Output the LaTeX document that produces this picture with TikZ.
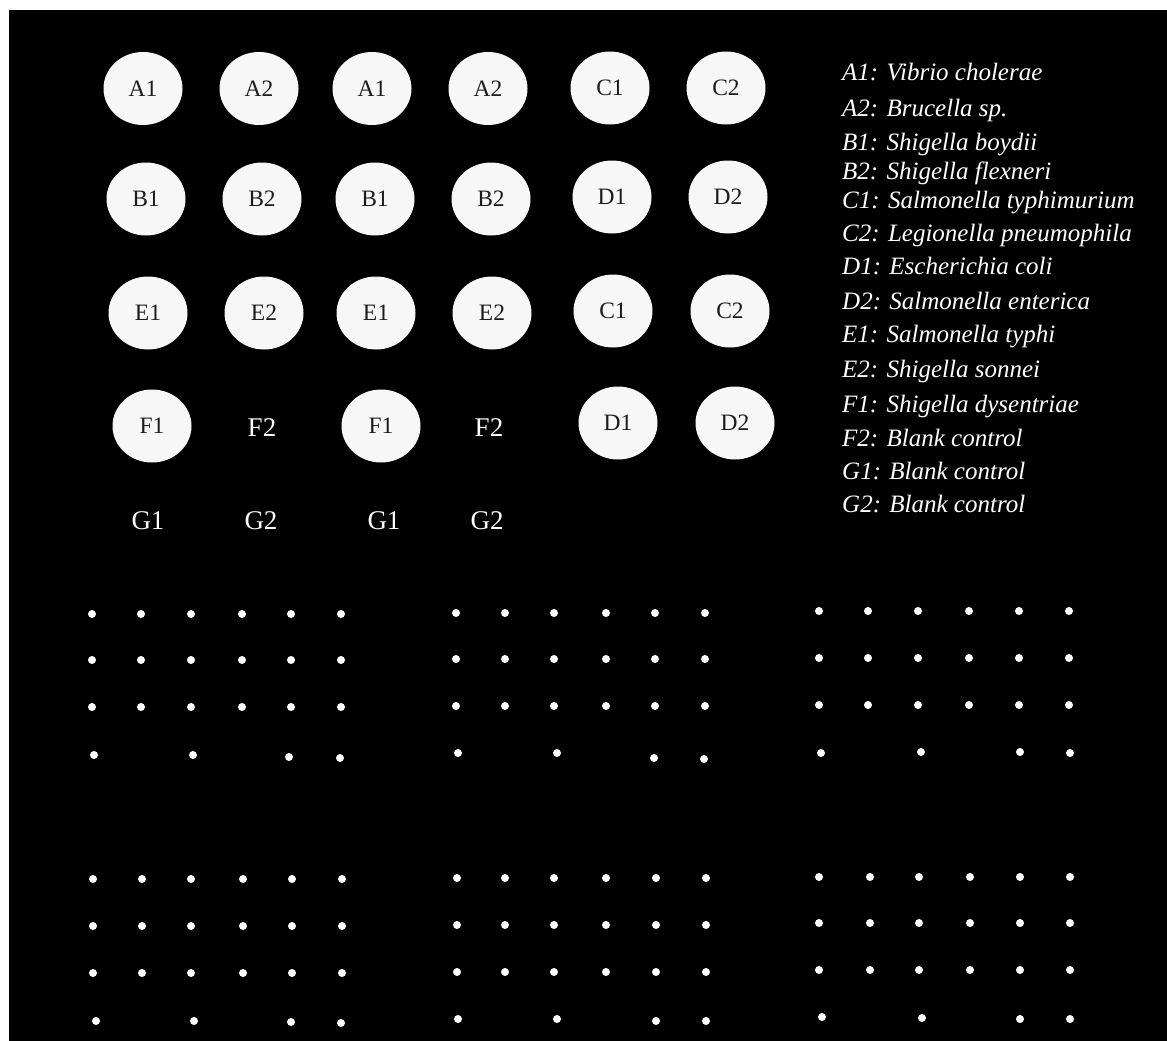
\documentclass[tikz,border=0pt]{standalone}
\usepackage{fontspec}
\setmainfont{Liberation Serif}
\usetikzlibrary{shapes.geometric}
\definecolor{wellfill}{HTML}{F7F7F7}
\definecolor{welltext}{HTML}{1C1C1C}
\begin{document}
\begin{tikzpicture}[x=1pt,y=-1pt,
  well/.style={ellipse, fill=wellfill, minimum width=79pt, minimum height=73pt, inner sep=0pt, text=welltext, font=\fontsize{23.5}{27}\selectfont},
  emptylabel/.style={text=white, inner sep=0pt, font=\fontsize{27}{30}\selectfont},
  legendline/.style={anchor=mid west, text=white, inner sep=0pt, font=\fontsize{25}{28}\selectfont\itshape},
  spot/.style={circle, fill=white, inner sep=0pt, minimum size=8pt}]
\useasboundingbox (0,0) rectangle (1167,1041);
\fill[white] (0,0) rectangle (1167,1041);
\fill[black] (9,10) rectangle (1167,1041);

% ---- wells, row A
\node[well] (wA1a) at (143,88.5) {A1};
\node[well] (wA2a) at (259,88.5) {A2};
\node[well] (wA1b) at (372,88.5) {A1};
\node[well] (wA2b) at (488,88.5) {A2};
\node[well] (wC1a) at (610,88) {C1};
\node[well] (wC2a) at (726,88) {C2};
% row B
\node[well] (wB1a) at (146,199) {B1};
\node[well] (wB2a) at (262,199) {B2};
\node[well] (wB1b) at (375,199) {B1};
\node[well] (wB2b) at (491,199) {B2};
\node[well] (wD1a) at (612,197) {D1};
\node[well] (wD2a) at (728,197) {D2};
% row E
\node[well] (wE1a) at (148,313) {E1};
\node[well] (wE2a) at (264,313) {E2};
\node[well] (wE1b) at (376,313) {E1};
\node[well] (wE2b) at (492,313) {E2};
\node[well] (wC1b) at (613,311) {C1};
\node[well] (wC2b) at (730,311) {C2};
% row F
\node[well] (wF1a) at (152,426) {F1};
\node[emptylabel] (wF2a) at (262,428) {F2};
\node[well] (wF1b) at (381,426) {F1};
\node[emptylabel] (wF2b) at (489,428) {F2};
\node[well] (wD1b) at (618,423) {D1};
\node[well] (wD2b) at (735,423) {D2};
% row G
\node[emptylabel] (wG1a) at (148,521) {G1};
\node[emptylabel] (wG2a) at (261,521) {G2};
\node[emptylabel] (wG1b) at (384,521) {G1};
\node[emptylabel] (wG2b) at (487,521) {G2};

% ---- legend
\node[legendline] (l1) at (842,78) {A1: Vibrio cholerae};
\node[legendline] (l2) at (842,114) {A2: Brucella sp.};
\node[legendline] (l3) at (842,148) {B1: Shigella boydii};
\node[legendline] (l4) at (842,177) {B2: Shigella flexneri};
\node[legendline] (l5) at (842,206) {C1: Salmonella typhimurium};
\node[legendline] (l6) at (842,239) {C2: Legionella pneumophila};
\node[legendline] (l7) at (842,272) {D1: Escherichia coli};
\node[legendline] (l8) at (842,307) {D2: Salmonella enterica};
\node[legendline] (l9) at (842,340) {E1: Salmonella typhi};
\node[legendline] (l10) at (842,375) {E2: Shigella sonnei};
\node[legendline] (l11) at (842,410) {F1: Shigella dysentriae};
\node[legendline] (l12) at (842,444) {F2: Blank control};
\node[legendline] (l13) at (842,477) {G1: Blank control};
\node[legendline] (l14) at (842,510) {G2: Blank control};

% ---- upper array block
\foreach \yy/\rr in {614/1,660/2,707/3}
  \foreach \xx [count=\cc] in {92,141,191,242,291,341}
    \node[spot] (u1-\rr-\cc) at (\xx,\yy) {};
\foreach \xx/\yy/\cc in {94/755/1,193/755/3,289/757/5,340/758/6}
  \node[spot] (u1-4-\cc) at (\xx,\yy) {};
\foreach \yy/\rr in {613/1,659/2,706/3}
  \foreach \xx [count=\cc] in {456,505,554,606,655,705}
    \node[spot] (u2-\rr-\cc) at (\xx,\yy) {};
\foreach \xx/\yy/\cc in {458/753/1,557/753/3,654/758/5,704/759/6}
  \node[spot] (u2-4-\cc) at (\xx,\yy) {};
\foreach \yy/\rr in {611/1,658/2,705/3}
  \foreach \xx [count=\cc] in {819,868,918,969,1019,1069}
    \node[spot] (u3-\rr-\cc) at (\xx,\yy) {};
\foreach \xx/\yy/\cc in {821/753/1,921/752/3,1020/752/5,1070/753/6}
  \node[spot] (u3-4-\cc) at (\xx,\yy) {};

% ---- lower array block
\foreach \yy/\rr in {879/1,926/2,973/3}
  \foreach \xx [count=\cc] in {93,142,191,243,292,342}
    \node[spot] (d1-\rr-\cc) at (\xx,\yy) {};
\foreach \xx/\yy/\cc in {96/1021/1,194/1021/3,291/1022/5,341/1023/6}
  \node[spot] (d1-4-\cc) at (\xx,\yy) {};
\foreach \yy/\rr in {878/1,925/2,972/3}
  \foreach \xx [count=\cc] in {457,505,554,606,656,706}
    \node[spot] (d2-\rr-\cc) at (\xx,\yy) {};
\foreach \xx/\yy/\cc in {458/1019/1,557/1019/3,656/1021/5,706/1021/6}
  \node[spot] (d2-4-\cc) at (\xx,\yy) {};
\foreach \yy/\rr in {877/1,923/2,970/3}
  \foreach \xx [count=\cc] in {819,870,919,970,1020,1070}
    \node[spot] (d3-\rr-\cc) at (\xx,\yy) {};
\foreach \xx/\yy/\cc in {822/1017/1,922/1018/3,1020/1019/5,1070/1019/6}
  \node[spot] (d3-4-\cc) at (\xx,\yy) {};
\end{tikzpicture}
\end{document}
